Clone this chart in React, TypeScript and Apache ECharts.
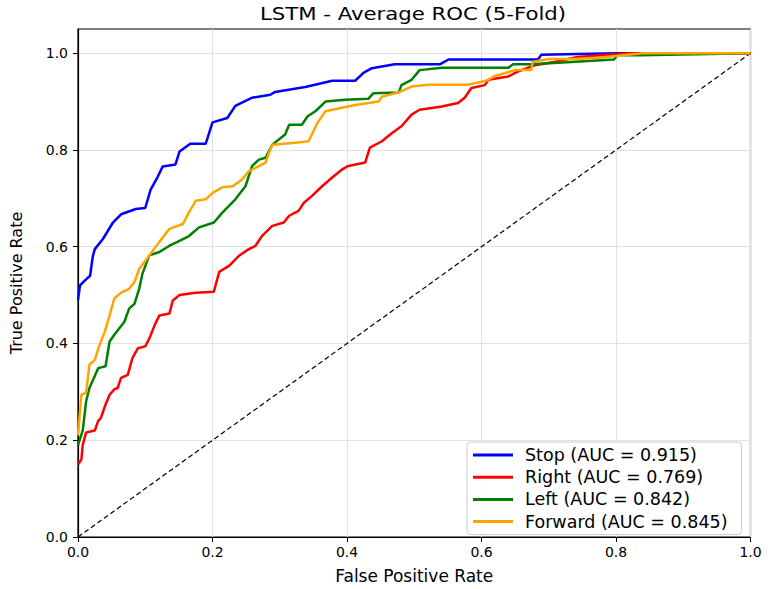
import React, { useEffect, useRef } from 'react';
import * as echarts from 'echarts';

// ROC curve points (fpr / tpr)
const stopFpr = [0, 0.003, 0.01, 0.018, 0.022, 0.025, 0.037, 0.052, 0.064, 0.086, 0.1, 0.108, 0.118, 0.126, 0.145, 0.151, 0.167, 0.19, 0.2, 0.222, 0.234, 0.259, 0.286, 0.293, 0.338, 0.378, 0.412, 0.425, 0.437, 0.471, 0.538, 0.551, 0.684, 0.689, 0.8, 1.0];
const stopTpr = [0.49, 0.52, 0.53, 0.54, 0.58, 0.595, 0.616, 0.65, 0.667, 0.678, 0.68, 0.718, 0.743, 0.766, 0.77, 0.797, 0.813, 0.813, 0.857, 0.866, 0.891, 0.908, 0.914, 0.92, 0.93, 0.943, 0.943, 0.96, 0.969, 0.977, 0.977, 0.987, 0.987, 0.997, 1.0, 1.0];

const rightFpr = [0, 0.005, 0.007, 0.012, 0.025, 0.03, 0.034, 0.041, 0.047, 0.054, 0.059, 0.064, 0.074, 0.081, 0.089, 0.1, 0.106, 0.114, 0.121, 0.136, 0.141, 0.151, 0.175, 0.202, 0.21, 0.225, 0.24, 0.254, 0.264, 0.274, 0.289, 0.306, 0.314, 0.328, 0.336, 0.348, 0.363, 0.378, 0.393, 0.402, 0.427, 0.434, 0.452, 0.467, 0.481, 0.496, 0.508, 0.541, 0.565, 0.575, 0.585, 0.605, 0.61, 0.64, 0.654, 0.679, 0.708, 0.743, 0.788, 0.82, 1.0];
const rightTpr = [0.15, 0.16, 0.19, 0.216, 0.22, 0.24, 0.246, 0.274, 0.294, 0.305, 0.308, 0.329, 0.335, 0.37, 0.39, 0.394, 0.41, 0.438, 0.458, 0.462, 0.489, 0.5, 0.505, 0.507, 0.548, 0.561, 0.582, 0.595, 0.602, 0.623, 0.643, 0.65, 0.664, 0.674, 0.691, 0.705, 0.725, 0.743, 0.76, 0.767, 0.774, 0.805, 0.818, 0.835, 0.849, 0.873, 0.883, 0.89, 0.897, 0.908, 0.928, 0.934, 0.945, 0.952, 0.962, 0.975, 0.982, 0.992, 0.997, 1.0, 1.0];

const leftFpr = [0, 0.007, 0.012, 0.017, 0.03, 0.041, 0.047, 0.054, 0.069, 0.076, 0.084, 0.091, 0.096, 0.106, 0.121, 0.136, 0.148, 0.165, 0.18, 0.202, 0.215, 0.234, 0.249, 0.259, 0.269, 0.279, 0.289, 0.308, 0.314, 0.333, 0.341, 0.353, 0.368, 0.397, 0.432, 0.439, 0.477, 0.481, 0.496, 0.508, 0.541, 0.64, 0.647, 0.674, 0.714, 0.797, 0.802, 0.837, 1.0];
const leftTpr = [0.19, 0.22, 0.28, 0.308, 0.349, 0.353, 0.404, 0.418, 0.445, 0.472, 0.482, 0.513, 0.545, 0.582, 0.589, 0.602, 0.61, 0.622, 0.64, 0.65, 0.671, 0.698, 0.725, 0.767, 0.78, 0.784, 0.811, 0.832, 0.852, 0.852, 0.869, 0.88, 0.9, 0.904, 0.906, 0.917, 0.919, 0.934, 0.945, 0.965, 0.97, 0.97, 0.977, 0.977, 0.98, 0.987, 0.996, 0.996, 1.0];

const forwardFpr = [0, 0.005, 0.012, 0.017, 0.025, 0.032, 0.04, 0.047, 0.054, 0.064, 0.076, 0.084, 0.091, 0.106, 0.121, 0.136, 0.156, 0.165, 0.175, 0.19, 0.202, 0.215, 0.23, 0.244, 0.254, 0.279, 0.284, 0.289, 0.323, 0.343, 0.356, 0.368, 0.412, 0.447, 0.452, 0.477, 0.496, 0.521, 0.58, 0.607, 0.62, 0.65, 0.674, 0.676, 0.699, 0.738, 0.778, 0.817, 0.84, 1.0];
const forwardTpr = [0.21, 0.294, 0.298, 0.356, 0.366, 0.397, 0.425, 0.458, 0.493, 0.505, 0.513, 0.527, 0.554, 0.582, 0.61, 0.637, 0.647, 0.671, 0.695, 0.698, 0.713, 0.723, 0.725, 0.739, 0.756, 0.774, 0.794, 0.811, 0.815, 0.818, 0.856, 0.88, 0.893, 0.9, 0.91, 0.919, 0.931, 0.935, 0.935, 0.943, 0.953, 0.965, 0.965, 0.982, 0.988, 0.988, 0.991, 0.997, 1.0, 1.0];

const classNames = ['Stop', 'Right', 'Left', 'Forward'];
const aucValues = [0.915, 0.769, 0.842, 0.845];
const lineColors = ['#0000ff', '#ff0000', '#008000', '#ffa500'];
const tickValues = [0, 0.2, 0.4, 0.6, 0.8, 1.0];

const curves = [
  [stopFpr, stopTpr],
  [rightFpr, rightTpr],
  [leftFpr, leftTpr],
  [forwardFpr, forwardTpr],
];

const FONT = '"DejaVu Sans", sans-serif';

const App: React.FC = () => {
  const chartRef = useRef<HTMLDivElement>(null);

  useEffect(() => {
    document.body.style.margin = '0';
    if (!chartRef.current) return;
    const myChart = echarts.init(chartRef.current, null, { renderer: 'svg' });

    const names = classNames.map((n, i) => `${n} (AUC = ${aucValues[i].toFixed(3)})`);

    const series: any[] = curves.map(([fpr, tpr], i) => ({
      name: names[i],
      type: 'line',
      data: fpr.map((x, j) => [x, tpr[j]]),
      showSymbol: false,
      symbol: 'none',
      lineStyle: { color: lineColors[i], width: 2.5 },
      itemStyle: { color: lineColors[i] },
      z: 3 + i,
    }));

    // chance diagonal
    series.push({
      type: 'line',
      data: [[0, 0], [1, 1]],
      showSymbol: false,
      symbol: 'none',
      lineStyle: { color: '#000', width: 1.2, type: [5, 3] },
      z: 2,
      silent: true,
    });

    const option = {
      animation: false,
      grid: {
        left: 75.5,
        right: 20.5,
        top: 29,
        bottom: 50,
        show: true,
        borderColor: '#000',
        borderWidth: 1.2,
        backgroundColor: '#fff',
      },
      graphic: [
        {
          type: 'text',
          x: 413,
          y: 5,
          scaleX: 1.18,
          style: {
            text: 'LSTM - Average ROC (5-Fold)',
            font: '18px "DejaVu Sans", sans-serif',
            fill: '#000',
            textAlign: 'center',
          },
        },
      ],
      legend: {
        data: names,
        orient: 'vertical',
        left: 467,
        top: 442,
        icon: 'rect',
        itemWidth: 40,
        itemHeight: 3,
        itemGap: 4.2,
        padding: [4, 14, 4, 6],
        borderColor: '#cccccc',
        borderWidth: 1,
        borderRadius: 4,
        backgroundColor: 'rgba(255,255,255,0.85)',
        textStyle: {
          fontFamily: FONT,
          fontSize: 17.5,
          color: '#000',
          lineHeight: 17.5,
          padding: [0, 0, 0, 7],
        },
      },
      xAxis: {
        type: 'value',
        min: 0,
        max: 1,
        interval: 0.2,
        name: 'False Positive Rate',
        nameLocation: 'middle',
        nameGap: 30,
        nameTextStyle: { fontFamily: FONT, fontSize: 17, color: '#000' },
        axisLine: { onZero: false, lineStyle: { color: '#000', width: 1.2 } },
        axisTick: { show: true, length: 5, lineStyle: { color: '#000' } },
        axisLabel: {
          margin: 8,
          fontFamily: FONT,
          fontSize: 14,
          color: '#000',
          formatter: (v: number) => v.toFixed(1),
        },
        splitLine: { show: true, lineStyle: { color: '#e2e2e2', width: 1 } },
      },
      yAxis: {
        type: 'value',
        min: 0,
        max: 1.05,
        interval: 0.2,
        name: 'True Positive Rate',
        nameLocation: 'middle',
        nameGap: 54,
        nameTextStyle: { fontFamily: FONT, fontSize: 16, color: '#000' },
        axisLine: { onZero: false, lineStyle: { color: '#000', width: 1.2 } },
        axisTick: { show: true, length: 5, lineStyle: { color: '#000' }, customValues: tickValues },
        axisLabel: {
          margin: 10,
          fontFamily: FONT,
          fontSize: 14,
          color: '#000',
          customValues: tickValues,
          formatter: (v: number) => (v > 1.001 ? '' : v.toFixed(1)),
        },
        splitLine: { show: true, lineStyle: { color: '#e2e2e2', width: 1 } },
      },
      series,
    };

    myChart.setOption(option);
    const resizeHandler = () => myChart.resize();
    window.addEventListener('resize', resizeHandler);
    return () => {
      window.removeEventListener('resize', resizeHandler);
      myChart.dispose();
    };
  }, []);

  return <div ref={chartRef} style={{ width: 771, height: 589 }}></div>;
};

export default App;
